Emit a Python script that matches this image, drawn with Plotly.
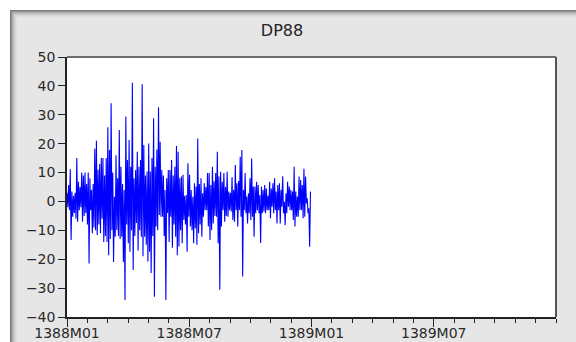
import plotly.graph_objects as go

# DP88 daily changes for 1388 (alternating peaks/troughs)
seg1 = [3, -2, 5.7, -3, 11.1, -13.3, 3.4, -5.3, 2, -4, 3, -6, 15, -7, 6.8, -3, 5, -2,
        10, -7, 9, -5, 10, -4, 6, -8, 10, -21.5, 8, -3, 4, -11, 6, -9, 18.2, -10,
        21, -11.6, 11, -8, 13, -11, 15, -6, 15, -14, 9, -12, 15, -14, 25.7, -18.6,
        17.8, -13, 34, -10, 10, -21]
seg2 = [1.6, -12.2, 16, -9.9, 8, -12, 24.7, -13, 12, -12.2, 6, -21, 4, -34.1,
        29.4, -8, 14.3, -14.5, 21.3, -17.4, 12, -10, 41.1, -23.7, 8, -12, 10.9, -7.5,
        17.2, -17, 12, -10, 14.3, -12.2, 40.6, -19, 19.5, -12.2, 9, -15, 10.4, -20.8,
        20.1, -17.4, 10.4, -24.8, 15, -12, 28.8, -33, 12, -8.7, 18, -10, 32.6, -4.7,
        20.7, -5.3, 10.9, -5.3, 9, -12, 4, -34.1, 8, -4, 10.9, -14]
seg3 = [10.9, -5.3, 14.3, -16, 9, -8, 12, -12.2, 19.2, -18.6, 17.2, -15.6, 8, -10,
        8.6, -14.5, 9.2, -6.4, 2, -8, 2.2, -17.4, 13.2, -5.3, 9.2, -8.7, 4, -10,
        1.6, -14.5, 6.3, -9.3, 5.2, -15, 21.8, -11, 6, -8, 8, -12.2, 2.8, -5.3,
        6.3, -3, 5, -3, 9.8, -8.7, 9.8, -13.3, 5.7, -9.9, 12, -7.6, 7, -5, 9.8, -5.3,
        17.2, -14.5, 8.6, -30.6, 10.3, -8.7]
seg4 = [6.8, -3, 9.8, -7, 5, -5, 10.3, -5.3, 3.4, -3, 3, -3.5, 8.4, -6.4, 4, -7,
        12.6, -3, 6.3, -8.7, 7.1, -3, 15.5, -5.3, 17.8, -26, 4, -3, 9.8, -4.1,
        1.7, -7.6, 2.8, -4.1, 8, -6.4, 14.9, -5.3, 5.2, -12.2, 5.2, -4.1, 6.8, -3,
        5.7, -4.1, 2.2, -14.4, 5.2, -4.1, 4, -3.5, 5.7, -4.1, 4.5, -3]
seg5 = [2, -3, 6.8, -5.8, 4.5, -1.8, 6.3, -4.1, 8, -3, 3.4, -7.6, 5.7, -3,
        6.3, -7.6, 4, -1.8, 8.7, -4.1, -0.1, -8.2, 2.8, -4.1, 6.8, -1.8, 5.2, -3,
        4, -3, 3.4, -6.4, 12, -8.7, 3.4, -5.3, 1.7, -5.3, 8.6, -3, 7.4, -3,
        5.7, -5.8, 11.3, -5.3, 8.6, -0.7, 1.1, -4.1, -2.4, -15.7, 3.4]
values = seg1 + seg2 + seg3 + seg4 + seg5

tick_vals = [0, 6, 12, 18]
tick_text = ["1388M01", "1388M07", "1389M01", "1389M07"]
months_covered = 11.95  # data spans 1388M01 .. end of 1388

n = len(values)
x = [i * months_covered / (n - 1) for i in range(n)]

fig = go.Figure()
fig.add_trace(go.Scatter(x=x, y=values, mode="lines",
                         line=dict(color="#0000ff", width=1.1), showlegend=False))

PW, PH = 576, 342
L, R, T, B = 67, 556, 57, 317
def px(v):
    return (v - L) / (R - L)
def py(v):
    return (B - v) / (B - T)

shapes = []
shapes.append(dict(type="rect", xref="paper", yref="paper", x0=px(0), x1=px(PW),
                   y0=py(10), y1=py(0), fillcolor="white", line=dict(width=0)))
shapes.append(dict(type="rect", xref="paper", yref="paper", x0=px(0), x1=px(10),
                   y0=py(PH), y1=py(0), fillcolor="white", line=dict(width=0)))
bevel = ["#7a7a7a", "#949494", "#aaaaaa", "#bdbdbd", "#cccccc", "#d7d7d7", "#dfdfdf"]
for k, c in enumerate(bevel):
    shapes.append(dict(type="rect", xref="paper", yref="paper", x0=px(10 + k), x1=px(PW),
                       y0=py(11 + k), y1=py(10 + k), fillcolor=c, line=dict(width=0)))
    shapes.append(dict(type="rect", xref="paper", yref="paper", x0=px(10 + k), x1=px(11 + k),
                       y0=py(PH), y1=py(10 + k), fillcolor=c, line=dict(width=0)))
shapes.append(dict(type="line", xref="paper", yref="paper", x0=0, x1=1, y0=1, y1=1,
                   line=dict(color="#6e6e6e", width=2)))
shapes.append(dict(type="line", xref="paper", yref="paper", x0=1, x1=1, y0=0, y1=1,
                   line=dict(color="#555555", width=2)))

FONT = "DejaVu Sans, Verdana, sans-serif"
fig.update_layout(
    width=PW, height=PH,
    margin=dict(l=L, r=PW - R, t=T, b=PH - B, pad=0),
    paper_bgcolor="#e6e6e6", plot_bgcolor="white",
    font=dict(family=FONT, size=14, color="#2a2a2a"),
    title=dict(text="DP88", x=282 / PW, xanchor="center", y=1 - 30 / PH, yanchor="middle",
               font=dict(family=FONT, size=16, color="#222222")),
    shapes=shapes,
)
fig.update_xaxes(range=[0, 24], tickmode="array", tickvals=tick_vals, ticktext=tick_text,
                 ticks="outside", ticklen=8, tickcolor="#222", showgrid=False, zeroline=False,
                 showline=True, linecolor="#222", linewidth=1.5, automargin=False,
                 ticklabelstandoff=-6,
                 minor=dict(dtick=1, tick0=0, ticks="outside", ticklen=4, tickcolor="#222",
                            showgrid=False),
                 tickfont=dict(family=FONT, size=14))
fig.update_yaxes(range=[-40, 50], dtick=10, tick0=0, ticks="outside", ticklen=7,
                 tickcolor="#222", showgrid=False, zeroline=False, automargin=False,
                 showline=True, linecolor="#222", linewidth=1.5,
                 tickfont=dict(family=FONT, size=14))

css_fix = (
    "var s=document.createElement('style');"
    "s.innerHTML='html,body{margin:0;padding:0;overflow:hidden;}';"
    "document.head.appendChild(s);"
)
fig.write_html("out.html", config={"displayModeBar": False}, post_script=css_fix)
